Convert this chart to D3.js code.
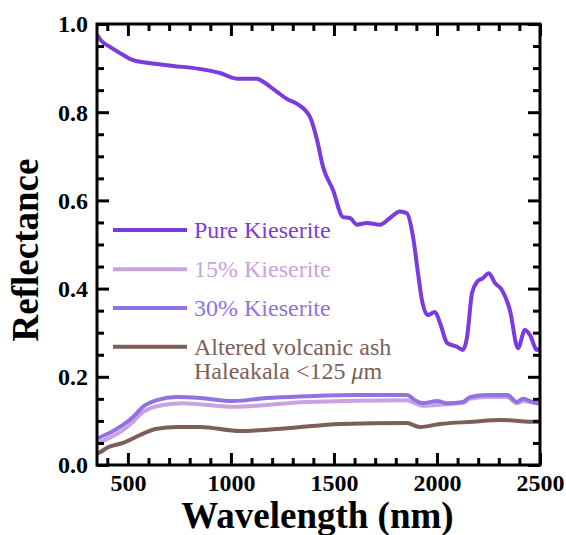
<!DOCTYPE html>
<html>
<head>
<meta charset="utf-8">
<style>
    body { margin: 0; background: #fff; }
    svg { display: block; }
    .domain { display: none; }
</style>
</head>
<body>
<svg width="566" height="535"></svg>
<script src="https://cdnjs.cloudflare.com/ajax/libs/d3/7.8.5/d3.min.js"></script>
<script>
// data (wavelength nm, reflectance)
const seriesNames = ["Pure Kieserite", "15% Kieserite", "30% Kieserite", "Altered volcanic ash"];
const seriesColors = ["#7a3bdf", "#c8a2e1", "#9172e2", "#7c5f58"];

const pureWl = [352, 365, 413, 462, 525, 593, 719, 850, 947, 1029, 1126, 1156, 1224, 1272, 1321, 1384, 1418, 1447, 1495, 1544, 1578, 1612, 1660, 1723, 1772, 1820, 1854, 1884, 1908, 1927, 1956, 1990, 2015, 2049, 2097, 2126, 2146, 2170, 2194, 2223, 2252, 2281, 2315, 2354, 2393, 2427, 2451, 2485, 2500];
const pureR = [0.975, 0.965, 0.948, 0.934, 0.918, 0.912, 0.905, 0.898, 0.889, 0.876, 0.876, 0.869, 0.846, 0.830, 0.819, 0.789, 0.737, 0.676, 0.624, 0.562, 0.560, 0.545, 0.549, 0.545, 0.560, 0.575, 0.571, 0.517, 0.435, 0.374, 0.340, 0.347, 0.322, 0.277, 0.268, 0.261, 0.290, 0.390, 0.415, 0.424, 0.435, 0.413, 0.397, 0.351, 0.265, 0.306, 0.295, 0.261, 0.265];

const k30Wl = [352, 365, 413, 476, 525, 573, 641, 738, 850, 1010, 1175, 1369, 1612, 1854, 1893, 1932, 2000, 2049, 2126, 2160, 2243, 2340, 2388, 2417, 2485, 2500];
const k30R = [0.060, 0.063, 0.073, 0.091, 0.109, 0.132, 0.147, 0.154, 0.152, 0.145, 0.152, 0.156, 0.159, 0.159, 0.147, 0.140, 0.145, 0.140, 0.143, 0.154, 0.159, 0.159, 0.143, 0.150, 0.140, 0.140];

const k15Wl = [352, 365, 413, 476, 525, 573, 670, 767, 1010, 1369, 1854, 1893, 1932, 2049, 2126, 2160, 2243, 2340, 2388, 2417, 2485, 2500];
const k15R = [0.050, 0.052, 0.062, 0.079, 0.098, 0.120, 0.136, 0.140, 0.132, 0.143, 0.147, 0.140, 0.134, 0.138, 0.141, 0.150, 0.154, 0.154, 0.140, 0.145, 0.140, 0.140];

const ashWl = [352, 365, 399, 476, 559, 641, 738, 850, 1044, 1287, 1529, 1854, 1917, 2015, 2175, 2306, 2485, 2500];
const ashR = [0.026, 0.029, 0.039, 0.050, 0.068, 0.082, 0.086, 0.086, 0.077, 0.084, 0.093, 0.095, 0.086, 0.093, 0.098, 0.102, 0.098, 0.098];

const xMajor = [500, 1000, 1500, 2000, 2500];
const yMajor = [0, 0.2, 0.4, 0.6, 0.8, 1.0];

const serif = "'Liberation Serif', 'Times New Roman', Times, serif";

const svg = d3.select("svg");
const margin = { top: 24, right: 26, bottom: 70, left: 97 };
const width = 566, height = 535;

const x = d3.scaleLinear().domain([350, 2500]).range([margin.left, width - margin.right]);
const y = d3.scaleLinear().domain([0, 1]).range([height - margin.bottom, margin.top]);

const xMinor = d3.range(400, 2501, 100).filter(d => d % 500 !== 0);
const yMinor = d3.range(0.05, 1, 0.05).filter(d => Math.round(d * 100) % 20 !== 0);

const line = d3.line().x(d => x(d[0])).y(d => y(d[1])).curve(d3.curveMonotoneX);
const allSeries = [
    d3.zip(pureWl, pureR),
    d3.zip(k15Wl, k15R),
    d3.zip(k30Wl, k30R),
    d3.zip(ashWl, ashR)
];

// draw order: ash, 15%, 30%, pure
[3, 1, 2, 0].forEach(i => {
    svg.append("path")
        .datum(allSeries[i])
        .attr("fill", "none")
        .attr("stroke", seriesColors[i])
        .attr("stroke-width", 4)
        .attr("stroke-linejoin", "round")
        .attr("d", line);
});

// ticks pointing inward on all four sides
const bottom = height - margin.bottom, right = width - margin.right;
svg.append("g").attr("transform", `translate(0,${bottom})`)
    .call(d3.axisBottom(x).tickValues(xMinor).tickSize(-7).tickFormat(""));
const xAxis = svg.append("g").attr("transform", `translate(0,${bottom})`)
    .call(d3.axisBottom(x).tickValues(xMajor).tickSize(-12).tickPadding(26).tickFormat(d3.format("d")));
svg.append("g").attr("transform", `translate(0,${margin.top})`)
    .call(d3.axisTop(x).tickValues(xMinor).tickSize(-7).tickFormat(""));
svg.append("g").attr("transform", `translate(0,${margin.top})`)
    .call(d3.axisTop(x).tickValues(xMajor).tickSize(-12).tickFormat(""));

svg.append("g").attr("transform", `translate(${margin.left},0)`)
    .call(d3.axisLeft(y).tickValues(yMinor).tickSize(-7).tickFormat(""));
const yAxis = svg.append("g").attr("transform", `translate(${margin.left},0)`)
    .call(d3.axisLeft(y).tickValues(yMajor).tickSize(-12).tickPadding(9).tickFormat(d3.format(".1f")));
svg.append("g").attr("transform", `translate(${right},0)`)
    .call(d3.axisRight(y).tickValues(yMinor).tickSize(-7).tickFormat(""));
svg.append("g").attr("transform", `translate(${right},0)`)
    .call(d3.axisRight(y).tickValues(yMajor).tickSize(-12).tickFormat(""));

svg.selectAll(".tick line").attr("stroke", "#000").attr("stroke-width", 3);
svg.selectAll(".tick text")
    .attr("fill", "#000")
    .style("font-family", serif)
    .style("font-weight", "bold")
    .style("font-size", "24px");
xAxis.selectAll(".tick text").attr("dy", null);
yAxis.selectAll(".tick text").attr("dy", "0.33em");

// frame
svg.append("rect")
    .attr("x", margin.left).attr("y", margin.top)
    .attr("width", right - margin.left).attr("height", bottom - margin.top)
    .attr("fill", "none").attr("stroke", "#000").attr("stroke-width", 3);

// axis titles
svg.append("text")
    .attr("x", (margin.left + right) / 2 - 1).attr("y", 528)
    .attr("text-anchor", "middle")
    .style("font-family", serif).style("font-weight", "bold").style("font-size", "37px")
    .text("Wavelength (nm)");
svg.append("text")
    .attr("transform", `translate(38,250) rotate(-90)`)
    .attr("text-anchor", "middle")
    .style("font-family", serif).style("font-weight", "bold").style("font-size", "37px")
    .text("Reflectance");

// legend
const legendY = [0.533, 0.444, 0.356, 0.268];
const legend = svg.append("g")
    .style("font-family", serif).style("font-size", "24px");
seriesNames.forEach((name, i) => {
    const ly = y(legendY[i]);
    legend.append("line")
        .attr("x1", 113).attr("x2", 187).attr("y1", ly).attr("y2", ly)
        .attr("stroke", seriesColors[i]).attr("stroke-width", 4);
    legend.append("text")
        .attr("x", 194).attr("y", ly + 8)
        .attr("fill", seriesColors[i]).text(name);
});
const t2 = legend.append("text")
    .attr("x", 194).attr("y", y(legendY[3]) + 32)
    .attr("fill", seriesColors[3]);
t2.append("tspan").text("Haleakala <125 ");
t2.append("tspan").attr("font-style", "italic").text("\u03bc");
t2.append("tspan").text("m");
</script>
</body>
</html>
